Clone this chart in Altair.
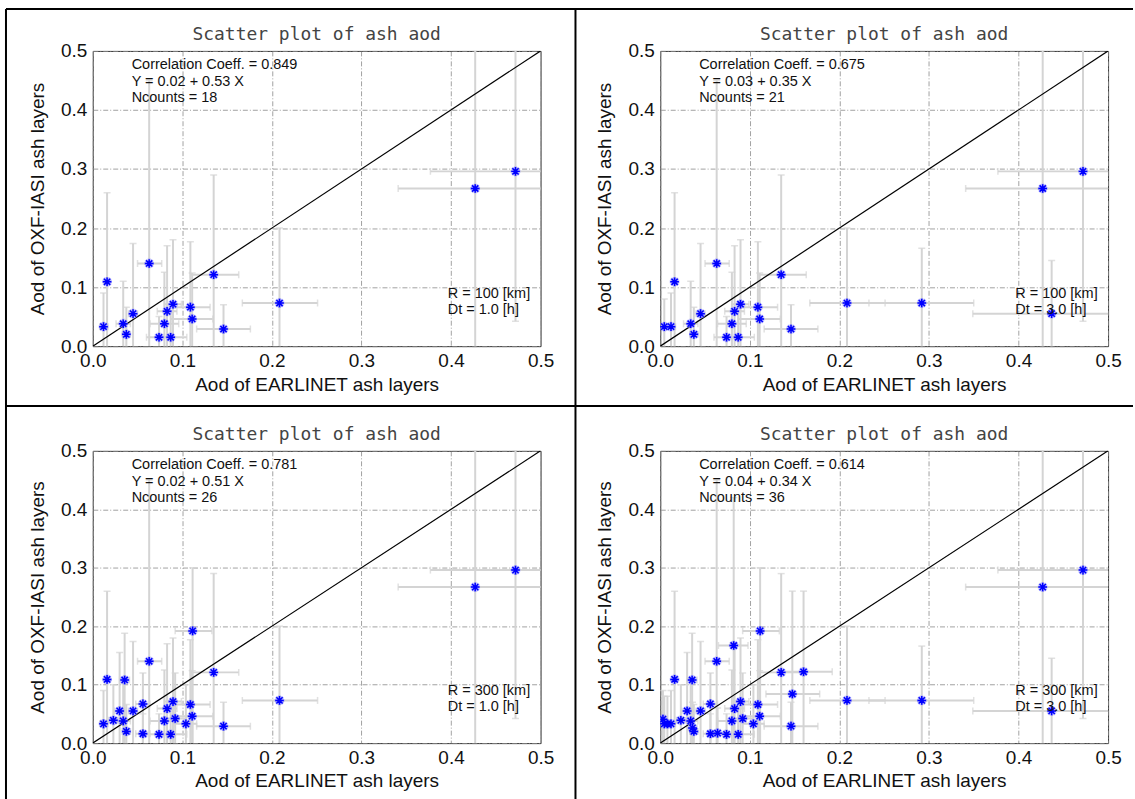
import altair as alt
import pandas as pd

# ---- master list of matched measurements (EARLINET x, OXF-IASI y) ----
earlinet_aod = [0.012, 0.016, 0.034, 0.0375, 0.045, 0.063, 0.074, 0.080, 0.083, 0.087,
                0.0896, 0.109, 0.111, 0.135, 0.146, 0.2085, 0.427, 0.472,
                0.0045, 0.292, 0.437,
                0.023, 0.030, 0.0356, 0.056, 0.056, 0.092, 0.104, 0.1115,
                0.003, 0.008, 0.036, 0.064, 0.082, 0.1475, 0.160]
iasi_aod = [0.033, 0.109, 0.038, 0.020, 0.055, 0.140, 0.015, 0.038, 0.059, 0.015,
            0.071, 0.066, 0.046, 0.121, 0.029, 0.073, 0.267, 0.296,
            0.033, 0.073, 0.055,
            0.039, 0.055, 0.108, 0.067, 0.016, 0.042, 0.033, 0.192,
            0.041, 0.033, 0.026, 0.017, 0.167, 0.084, 0.122]
iasi_err_lo = [-0.02, -0.03, -0.03, -0.02, -0.03, -0.10, -0.02, -0.03, -0.03, -0.02,
               -0.03, -0.03, -0.03, -0.03, -0.02, -0.03, -0.10, 0.042,
               -0.02, -0.03, -0.03,
               -0.02, -0.03, -0.03, -0.03, -0.02, -0.03, -0.02, -0.05,
               -0.02, -0.02, -0.02, -0.02, -0.05, -0.03, -0.03]
iasi_err_hi = [0.09, 0.26, 0.11, 0.066, 0.174, 0.45, 0.05, 0.125, 0.17, 0.06,
               0.18, 0.177, 0.124, 0.29, 0.07, 0.20, 0.60, 0.60,
               0.08, 0.166, 0.145,
               0.10, 0.155, 0.188, 0.12, 0.05, 0.12, 0.10, 0.30,
               0.09, 0.08, 0.07, 0.06, 0.42, 0.26, 0.26]
earlinet_err_lo = [0.008, 0.013, 0.026, 0.033, 0.040, 0.050, 0.060, 0.064, 0.072, 0.080,
                   0.080, 0.089, 0.087, 0.109, 0.116, 0.167, 0.341, 0.377,
                   0.002, 0.233, 0.349,
                   0.018, 0.024, 0.030, 0.048, 0.048, 0.080, 0.092, 0.092,
                   0.000, 0.004, 0.031, 0.056, 0.065, 0.118, 0.136]
earlinet_err_hi = [0.017, 0.019, 0.042, 0.042, 0.050, 0.077, 0.088, 0.096, 0.094, 0.105,
                   0.099, 0.131, 0.134, 0.163, 0.176, 0.251, 0.52, 0.57,
                   0.007, 0.35, 0.53,
                   0.028, 0.036, 0.041, 0.064, 0.064, 0.104, 0.116, 0.133,
                   0.008, 0.012, 0.041, 0.072, 0.098, 0.178, 0.192]

# ---- which measurements fall in each collocation window ----
panel_members = [
    [0, 1, 2, 3, 4, 5, 6, 7, 8, 9, 10, 11, 12, 13, 14, 15, 16, 17],
    [0, 1, 2, 3, 4, 5, 6, 7, 8, 9, 10, 11, 12, 13, 14, 15, 16, 17, 18, 19, 20],
    [0, 1, 2, 3, 4, 5, 6, 7, 8, 9, 10, 11, 12, 13, 14, 15, 16, 17,
     21, 22, 23, 24, 25, 26, 27, 28],
    [0, 1, 2, 3, 4, 5, 6, 7, 8, 9, 10, 11, 12, 13, 14, 15, 16, 17, 18, 19, 20,
     21, 22, 23, 24, 25, 26, 27, 28, 29, 30, 31, 32, 33, 34, 35],
]
panel_title = "Scatter plot of ash aod"
corr_coeff = ["0.849", "0.675", "0.781", "0.614"]
fit_eq = ["Y = 0.02 + 0.53 X", "Y = 0.03 + 0.35 X", "Y = 0.02 + 0.51 X", "Y = 0.04 + 0.34 X"]
ncounts = [18, 21, 26, 36]
radius_km = [100, 100, 300, 300]
dt_hours = ["1.0", "3.0", "1.0", "3.0"]
axis_ticks = [0.0, 0.1, 0.2, 0.3, 0.4, 0.5]
one_to_one = [0.0, 0.5]

master = pd.DataFrame({
    "x": earlinet_aod, "y": iasi_aod,
    "ylo": iasi_err_lo, "yhi": iasi_err_hi,
    "xlo": earlinet_err_lo, "xhi": earlinet_err_hi,
})

ASTERISK = "M-1,0L1,0M0,-1L0,1M-0.72,-0.72L0.72,0.72M-0.72,0.72L0.72,-0.72"
ERR_COLOR = "#d4d4d4"
LABEL_FONT = "Liberation Sans"
PANEL_W = 449

xs = alt.Scale(domain=[0, 0.5], nice=False, zero=False)
ys = alt.Scale(domain=[0, 0.5], nice=False, zero=False)
X_AXIS = alt.Axis(values=axis_ticks, format=".1f", title="Aod of EARLINET ash layers",
                  labelFlush=False, labelPadding=5, titlePadding=5)
Y_AXIS = alt.Axis(values=axis_ticks, format=".1f", title="Aod of OXF-IASI ash layers",
                  labelFlush=False, labelPadding=6, titlePadding=13)


def X(f):
    return alt.X(f, type="quantitative", scale=xs, axis=X_AXIS)


def Y(f):
    return alt.Y(f, type="quantitative", scale=ys, axis=Y_AXIS)


def label(text, px, py, size=14.5, font=LABEL_FONT, align="left", color="#111",
          baseline="middle"):
    return alt.Chart(pd.DataFrame({"t": [text]})).mark_text(
        font=font, fontSize=size, align=align, baseline=baseline, color=color
    ).encode(x=alt.value(px), y=alt.value(py), text="t:N")


def border(**enc):
    return alt.Chart(pd.DataFrame({"k": [0]})).mark_rule(
        color="black", strokeWidth=2).encode(**{k: alt.value(v) for k, v in enc.items()})


def make_panel(i, height, with_borders=False):
    df = master.iloc[panel_members[i]].reset_index(drop=True)
    caps_v = pd.concat([
        pd.DataFrame({"x": df["x"], "y": df["yhi"]}),
        pd.DataFrame({"x": df["x"], "y": df["ylo"]}),
    ])
    caps_h = pd.concat([
        pd.DataFrame({"x": df["xlo"], "y": df["y"]}),
        pd.DataFrame({"x": df["xhi"], "y": df["y"]}),
    ])
    base = alt.Chart(df)
    vbars = base.mark_rule(color=ERR_COLOR, strokeWidth=2, clip=True).encode(
        x=X("x"), y=Y("ylo"), y2="yhi")
    hbars = base.mark_rule(color=ERR_COLOR, strokeWidth=2, clip=True).encode(
        x=X("xlo"), x2="xhi", y=Y("y"))
    vcaps = alt.Chart(caps_v).mark_tick(color=ERR_COLOR, orient="horizontal", size=7,
                                        thickness=1.5, clip=True).encode(x=X("x"), y=Y("y"))
    hcaps = alt.Chart(caps_h).mark_tick(color=ERR_COLOR, orient="vertical", size=7,
                                        thickness=1.5, clip=True).encode(x=X("x"), y=Y("y"))
    diag = alt.Chart(pd.DataFrame({"a": one_to_one, "b": one_to_one})).mark_line(
        color="black", strokeWidth=1.2, clip=True).encode(x=X("a"), y=Y("b"))
    halo = base.mark_point(shape=ASTERISK, filled=False, stroke="#8c8cff", strokeWidth=3,
                           size=95, opacity=0.6, clip=True).encode(x=X("x"), y=Y("y"))
    pts = base.mark_point(shape=ASTERISK, filled=False, stroke="#0000ff", strokeWidth=1.5,
                          size=75, opacity=1, clip=True).encode(x=X("x"), y=Y("y"))

    layers = [vbars, hbars, vcaps, hcaps, diag, halo, pts,
              label(panel_title, PANEL_W / 2, -11, size=18, font="DejaVu Sans Mono",
                    align="center", color="#444", baseline="alphabetic"),
              label(f"Correlation Coeff. = {corr_coeff[i]}", 39, 14),
              label(fit_eq[i], 39, 31),
              label(f"Ncounts = {ncounts[i]}", 39, 47),
              label(f"R = {radius_km[i]} [km]", 356, height - 52),
              label(f"Dt = {dt_hours[i]} [h]", 356, height - 36)]
    if with_borders:
        layers += [
            border(x=-87, x2=1043, y=-42),
            border(x=-87, y=-42, y2=750),
            border(x=484, y=-42, y2=750),
            border(x=-87, x2=1043, y=356),
        ]
    return alt.layer(*layers).properties(width=PANEL_W, height=height)


chart = alt.concat(
    make_panel(0, 296, with_borders=True), make_panel(1, 296),
    make_panel(2, 293), make_panel(3, 293),
    columns=2, spacing={"row": 105, "column": 120}, bounds="flush",
).properties(
    padding={"left": 4, "top": 6, "right": 0, "bottom": 0},
    background="white",
).configure_view(stroke="#333", strokeWidth=1).configure_axis(
    labelFont=LABEL_FONT, titleFont=LABEL_FONT, labelFontSize=19, titleFontSize=19,
    titleFontWeight="normal", labelColor="#111", titleColor="#111",
    domain=False, ticks=False,
    grid=True, gridColor="#8a8a8a", gridDash=[5, 2, 1, 2], gridWidth=0.8,
)

chart.save("out.html", embed_options={"renderer": "svg", "actions": False})
